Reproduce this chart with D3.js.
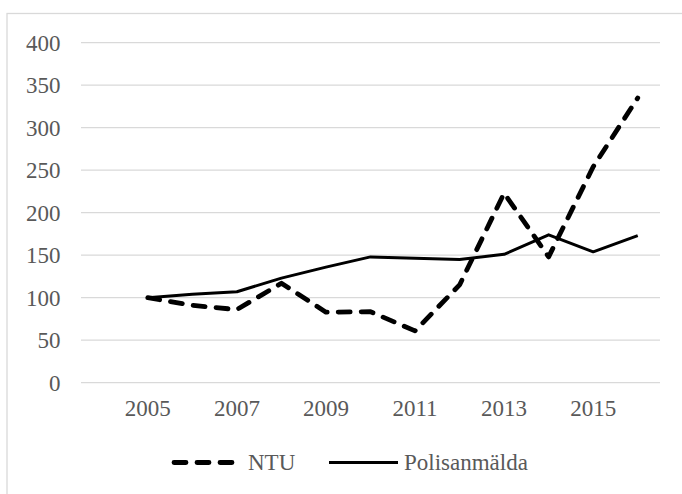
<!DOCTYPE html>
<html>
<head>
<meta charset="utf-8">
<script src="https://cdn.jsdelivr.net/npm/d3@7"></script>
<style>
body { margin: 0; background: #fff; }
svg { display: block; }
</style>
</head>
<body>
<script>
const categories = ["", "2005", "2006", "2007", "2008", "2009", "2010", "2011", "2012", "2013", "2014", "2015", "2016"];
const years = ["2005", "2006", "2007", "2008", "2009", "2010", "2011", "2012", "2013", "2014", "2015", "2016"];
const ntu = [100, 91, 86, 117, 83, 83.5, 61, 115, 223, 148, 254, 335];
const polis = [100, 104, 107, 123, 136, 148, 146.5, 145, 151, 174, 154, 173];
const yTicks = [0, 50, 100, 150, 200, 250, 300, 350, 400];
const xTickLabels = ["2005", "2007", "2009", "2011", "2013", "2015"];
const seriesNames = ["NTU", "Polisanmälda"];

const W = 682, H = 494;
const svg = d3.select("body").append("svg").attr("width", W).attr("height", H);

svg.append("rect").attr("x", 7).attr("y", 13.5).attr("width", 720).attr("height", 520)
  .attr("fill", "none").attr("stroke", "#d9d9d9").attr("stroke-width", 1.3);

const x = d3.scaleBand().domain(categories).range([81, 660]);
const y = d3.scaleLinear().domain([0, 400]).range([382.7, 42.7]);
const font = "'Liberation Serif', 'Times New Roman', serif";
const fs = 23;

const grid = svg.append("g");
grid.selectAll("line").data(yTicks).join("line")
  .attr("x1", 81).attr("x2", 660)
  .attr("y1", d => y(d)).attr("y2", d => y(d))
  .attr("stroke", "#d9d9d9").attr("stroke-width", 1.3);

const yAxis = svg.append("g").attr("transform", "translate(60.5,0)")
  .call(d3.axisLeft(y).tickValues(yTicks).tickSize(0).tickPadding(0));
yAxis.select(".domain").remove();
yAxis.selectAll("text").attr("font-family", font).attr("font-size", fs).attr("fill", "#595959")
  .attr("dy", "0.33em");

const xAxis = svg.append("g").attr("transform", "translate(0,399.5)")
  .call(d3.axisBottom(x).tickValues(xTickLabels).tickSize(0).tickPadding(0));
xAxis.select(".domain").remove();
xAxis.selectAll("text").attr("font-family", font).attr("font-size", fs).attr("fill", "#595959")
  .attr("dy", "0.71em");

const cx = d => x(d) + x.bandwidth() / 2;
const line = d3.line().x((d, i) => cx(years[i])).y(d => y(d));

svg.append("path").datum(polis).attr("d", line)
  .attr("fill", "none").attr("stroke", "#000").attr("stroke-width", 3)
  .attr("stroke-linejoin", "round");

svg.append("path").datum(ntu).attr("d", line)
  .attr("fill", "none").attr("stroke", "#000").attr("stroke-width", 4.8)
  .attr("stroke-dasharray", "12 11").attr("stroke-linecap", "round")
  .attr("stroke-linejoin", "round");

// legend
const ly = 462.5;
svg.append("line").attr("x1", 174).attr("x2", 233).attr("y1", ly).attr("y2", ly)
  .attr("stroke", "#000").attr("stroke-width", 4.8)
  .attr("stroke-dasharray", "12 11").attr("stroke-linecap", "round");
svg.append("text").attr("x", 248).attr("y", ly).attr("dy", "0.33em")
  .attr("font-family", font).attr("font-size", fs).attr("fill", "#595959").text(seriesNames[0]);
svg.append("line").attr("x1", 329).attr("x2", 398).attr("y1", ly).attr("y2", ly)
  .attr("stroke", "#000").attr("stroke-width", 3);
svg.append("text").attr("x", 404).attr("y", ly).attr("dy", "0.33em")
  .attr("font-family", font).attr("font-size", fs).attr("fill", "#595959").text(seriesNames[1]);
</script>
</body>
</html>
